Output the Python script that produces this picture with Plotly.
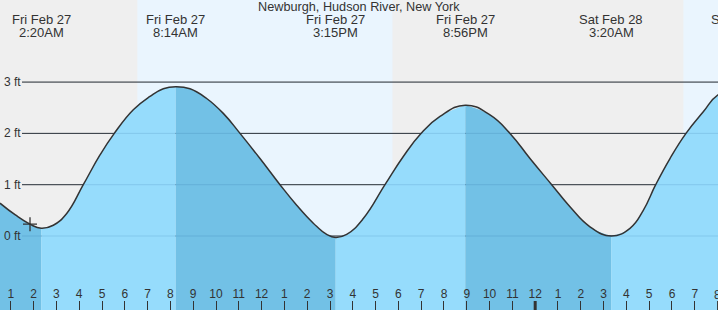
import plotly.graph_objects as go

# ---- data (hours since Fri Feb 27 00:00, heights in ft) ----
hours = [0.526, 1.200, 1.842, 2.333, 2.864, 3.452, 4.180, 4.912, 5.539, 6.373, 7.105, 7.689,
         8.233, 8.860, 9.592, 10.320, 11.053, 11.930, 12.807, 13.539, 14.268, 14.855,
         15.250, 15.732, 16.461, 17.412, 18.215, 18.991, 19.825, 20.933, 22.018, 22.895,
         23.772, 24.724, 25.526, 26.404, 27.333, 28.158, 28.741, 29.285, 29.912, 30.614,
         31.373, 32.018, 33.100]
heights = [0.64, 0.41, 0.23, 0.15, 0.21, 0.44, 1.00, 1.58, 2.00, 2.46, 2.72, 2.87,
           2.91, 2.87, 2.68, 2.39, 2.00, 1.51, 1.00, 0.60, 0.25, 0.03,
           -0.03, 0.03, 0.34, 1.00, 1.55, 2.00, 2.33, 2.55, 2.36, 2.00,
           1.51, 1.00, 0.57, 0.18, 0.00, 0.15, 0.50, 1.00, 1.51, 2.00,
           2.42, 2.75, 2.92]

event_days = ["Fri Feb 27", "Fri Feb 27", "Fri Feb 27", "Fri Feb 27", "Sat Feb 28", "Sat Feb 28"]
event_times = ["2:20AM", "8:14AM", "3:15PM", "8:56PM", "3:20AM", "9:06AM"]
event_hours = [2.333, 8.233, 15.250, 20.933, 27.333, 33.100]

daylight = [(6.55, 17.74), (30.50, 34.0)]

tick_hours = list(range(1, 32))
tick_labels = ["1", "2", "3", "4", "5", "6", "7", "8", "9", "10", "11", "12",
               "1", "2", "3", "4", "5", "6", "7", "8", "9", "10", "11", "12",
               "1", "2", "3", "4", "5", "6", "7"]
edge_tick_hour = 32
edge_tick_label = "8"
midnight_hour = 24

grid_ft = [0, 1, 2, 3]
grid_labels = ["0 ft", "1 ft", "2 ft", "3 ft"]

now_hour = 1.842
now_height = 0.23

title = "Newburgh, Hudson River, New York"

# ---- styling ----
NIGHT = "#efefef"
DAY = "#eaf5fe"
RISE = "#96dcfc"
FALL = "#72c1e6"
INK = "#333333"
FONT = "Liberation Sans, Arial, sans-serif"
SMOOTH = 1.3

X_RANGE = [0.5263, 32.018]
Y_RANGE = [-1.4425, 4.600]
W, H = 718, 310

fig = go.Figure()

# fills: split at extremes
bounds = [hours[0]] + event_hours[:5] + [hours[-1]]
for a, b in zip(bounds[:-1], bounds[1:]):
    seg = [(t, v) for t, v in zip(hours, heights) if a - 1e-9 <= t <= b + 1e-9]
    xs = [p[0] for p in seg]
    ys = [p[1] for p in seg]
    color = FALL if ys[-1] < ys[0] else RISE
    fig.add_trace(go.Scatter(x=[xs[0], xs[-1]], y=[-3, -3], mode="lines",
                             line=dict(width=0), hoverinfo="skip", showlegend=False))
    fig.add_trace(go.Scatter(x=xs, y=ys, mode="lines",
                             line=dict(width=0, shape="spline", smoothing=SMOOTH),
                             fill="tonexty", fillcolor=color, hoverinfo="skip", showlegend=False))

# curve
fig.add_trace(go.Scatter(x=hours, y=heights, mode="lines",
                         line=dict(color=INK, width=1.5, shape="spline", smoothing=SMOOTH),
                         hoverinfo="skip", showlegend=False))
# current time marker
fig.add_trace(go.Scatter(x=[now_hour], y=[now_height], mode="markers",
                         marker=dict(symbol="cross-thin", size=10,
                                     line=dict(color=INK, width=1.3)),
                         hoverinfo="skip", showlegend=False))

shapes = []
for a, b in daylight:
    shapes.append(dict(type="rect", xref="x", yref="paper", x0=a, x1=b, y0=0, y1=1,
                       fillcolor=DAY, line=dict(width=0), layer="below"))
for g in grid_ft:
    shapes.append(dict(type="line", xref="paper", yref="y", x0=22 / W, x1=1, y0=g, y1=g,
                       line=dict(color=INK, width=1), layer="below"))
    shapes.append(dict(type="line", xref="paper", yref="y", x0=22 / W, x1=1, y0=g, y1=g,
                       line=dict(color="rgba(0,60,120,0.13)", width=1), layer="above"))
shapes.append(dict(type="line", xref="x", yref="paper", x0=midnight_hour, x1=midnight_hour,
                   ysizemode="pixel", yanchor=0, y0=0, y1=9,
                   line=dict(color=INK, width=3)))
shapes.append(dict(type="line", xref="x", yref="paper", x0=edge_tick_hour, x1=edge_tick_hour,
                   ysizemode="pixel", yanchor=0, y0=0, y1=9,
                   line=dict(color=INK, width=1)))


def to_paper_x(hr):
    return (hr - X_RANGE[0]) / (X_RANGE[1] - X_RANGE[0])


annotations = []
annotations.append(dict(text=title, x=0.5, y=1 - 7.5 / H, xref="paper", yref="paper",
                        showarrow=False, xanchor="center", yanchor="middle",
                        font=dict(family=FONT, size=12.7, color=INK)))
for d, tm, hr in zip(event_days, event_times, event_hours):
    for txt, ypx in ((d, 19.7), (tm, 32.2)):
        annotations.append(dict(text=txt, x=to_paper_x(hr), y=1 - ypx / H,
                                xref="paper", yref="paper",
                                showarrow=False, xanchor="center", yanchor="middle",
                                font=dict(family=FONT, size=13, color=INK)))
for g, lab in zip(grid_ft, grid_labels):
    annotations.append(dict(text=lab, x=0, y=g, xref="paper", yref="y", xshift=2,
                            showarrow=False, xanchor="left", yanchor="middle",
                            font=dict(family=FONT, size=12, color=INK)))
annotations.append(dict(text=edge_tick_label, x=to_paper_x(edge_tick_hour), y=1 - 294.5 / H,
                        xref="paper", yref="paper", showarrow=False,
                        xanchor="center", yanchor="middle",
                        font=dict(family=FONT, size=12, color=INK)))

fig.update_layout(
    width=W, height=H,
    margin=dict(l=0, r=0, t=0, b=0, pad=0),
    paper_bgcolor=NIGHT, plot_bgcolor=NIGHT,
    shapes=shapes, annotations=annotations,
    xaxis=dict(range=X_RANGE, showgrid=False, zeroline=False, showline=False,
               tickvals=tick_hours, ticktext=tick_labels,
               ticks="inside", ticklen=9, tickwidth=1, tickcolor=INK,
               ticklabelposition="inside", tickangle=0,
               tickfont=dict(family=FONT, size=12, color=INK)),
    yaxis=dict(range=Y_RANGE, showgrid=False, zeroline=False, showline=False,
               showticklabels=False, ticks=""),
    showlegend=False,
)

fig.write_html("out.html")
